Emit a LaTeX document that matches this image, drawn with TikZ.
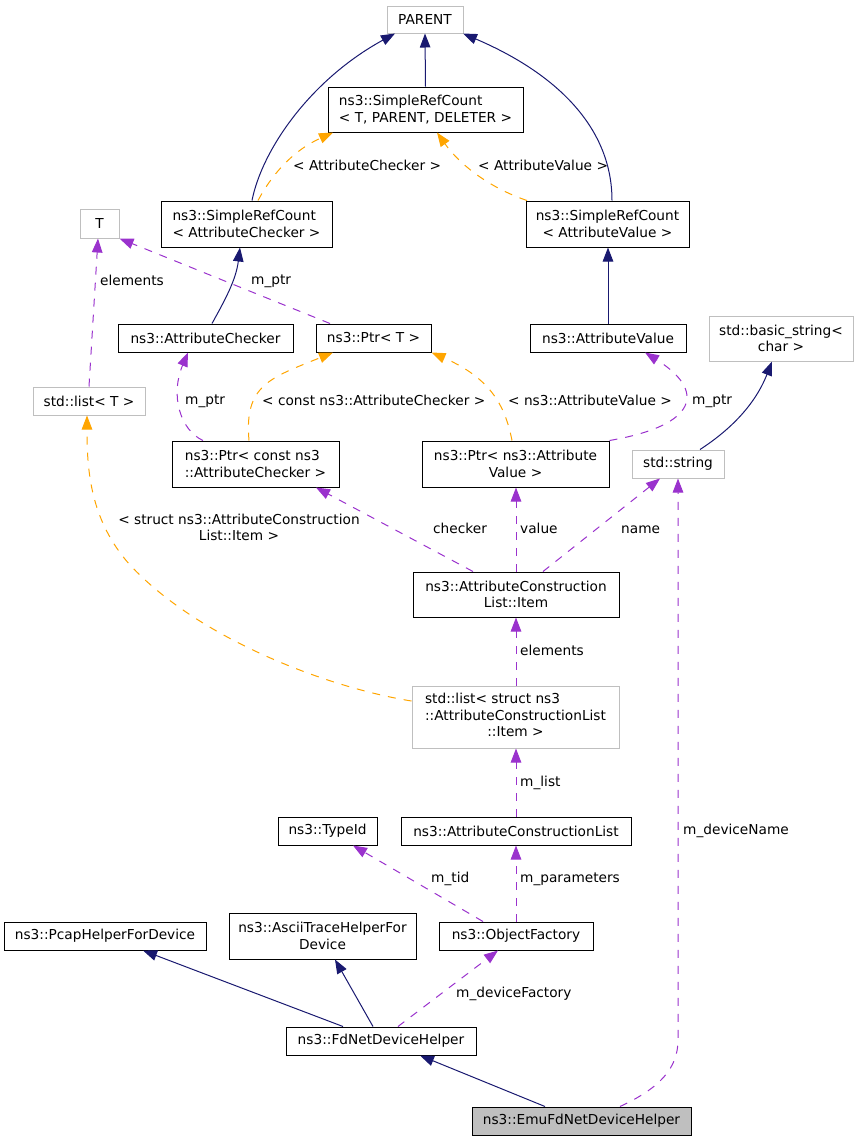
\documentclass[tikz,border=0pt]{standalone}
\usepackage{fontspec}
\setmainfont{DejaVu Sans}
\usetikzlibrary{arrows.meta}
\definecolor{navyc}{HTML}{191970}
\definecolor{orchc}{HTML}{9A32CD}
\definecolor{orngc}{HTML}{FFA500}
\definecolor{gbord}{HTML}{BFBFBF}
\definecolor{gfill}{HTML}{BFBFBF}
\begin{document}
\begin{tikzpicture}[x=1pt,y=-1pt,font=\fontsize{13.7}{16.5}\selectfont,
  cbox/.style={draw=black, line width=1pt, fill=white, inner sep=0pt, align=center},
  gbox/.style={cbox, draw=gbord},
  tip/.style={-{Triangle[length=14pt,width=10.5pt]}},
  inhedge/.style={draw=navyc, line width=1pt, tip, navyc},
  useedge/.style={draw=orchc, line width=1pt, dash pattern=on 8pt off 8pt, tip, orchc},
  tmpledge/.style={draw=orngc, line width=1pt, dash pattern=on 8pt off 8pt, tip, orngc},
  lbl/.style={inner sep=0pt, anchor=base west}]
\useasboundingbox (0,0) rectangle (859,1141);

% nodes
\node[gbox, minimum width=76, minimum height=27] (parent) at (425,19.5) {PARENT};
\node[cbox, align=left, minimum width=195, minimum height=45] (srct) at (425.5,109.5) {ns3::SimpleRefCount\\< T, PARENT, DELETER >};
\node[cbox, align=left, minimum width=171, minimum height=46] (srcac) at (246.5,224) {ns3::SimpleRefCount\\< AttributeChecker >};
\node[cbox, minimum width=163, minimum height=46] (srcav) at (607.5,224) {ns3::SimpleRefCount\\< AttributeValue >};
\node[gbox, minimum width=39, minimum height=29] (tt) at (99.5,223.5) {T};
\node[cbox, minimum width=175, minimum height=28] (ac) at (205.5,338) {ns3::AttributeChecker};
\node[cbox, minimum width=115, minimum height=28] (ptrt) at (373.5,338) {ns3::Ptr< T >};
\node[cbox, minimum width=156, minimum height=28] (av) at (608,338) {ns3::AttributeValue};
\node[gbox, minimum width=144, minimum height=45] (bstr) at (781,338.5) {std::basic\_string<\\char >};
\node[gbox, minimum width=112, minimum height=28] (listt) at (89,401) {std::list< T >};
\node[cbox, align=left, minimum width=167, minimum height=46] (ptrcac) at (255.5,464) {ns3::Ptr< const ns3\\::AttributeChecker >};
\node[cbox, minimum width=187, minimum height=46] (ptrav) at (515.5,464) {ns3::Ptr< ns3::Attribute\\Value >};
\node[gbox, minimum width=92, minimum height=28] (str) at (678,464) {std::string};
\node[cbox, minimum width=206, minimum height=45] (item) at (516,594.5) {ns3::AttributeConstruction\\List::Item};
\node[draw=gbord, line width=1pt, fill=white, inner sep=0pt, minimum width=207, minimum height=62] (lists) at (515.5,717)
  {\begin{tabular}{@{}c@{}}\begin{tabular}{@{}l@{}}std::list< struct ns3\\::AttributeConstructionList\end{tabular}\\::Item >\end{tabular}};
\node[cbox, minimum width=99, minimum height=28] (typeid) at (327.5,831) {ns3::TypeId};
\node[cbox, minimum width=230, minimum height=28] (acl) at (516,831) {ns3::AttributeConstructionList};
\node[cbox, minimum width=202, minimum height=28] (pcap) at (105,936) {ns3::PcapHelperForDevice};
\node[cbox, minimum width=187, minimum height=46] (ascii) at (322.5,936) {ns3::AsciiTraceHelperFor\\Device};
\node[cbox, minimum width=154, minimum height=28] (of) at (516,936) {ns3::ObjectFactory};
\node[cbox, minimum width=190, minimum height=28] (fd) at (381,1041) {ns3::FdNetDeviceHelper};
\node[cbox, fill=gfill, minimum width=219, minimum height=28] (emu) at (581.5,1121) {ns3::EmuFdNetDeviceHelper};

% inheritance edges
\draw[inhedge] ([xshift=5.5pt]srcac.north) .. controls (262,150) and (310,80) .. ([xshift=-30pt]parent.south);
\draw[inhedge] (srct.north) -- (parent.south);
\draw[inhedge] ([xshift=4.5pt]srcav.north) .. controls (612,130) and (560,75) .. ([xshift=38pt]parent.south);
\draw[inhedge] ([xshift=6.5pt]ac.north) .. controls (225,300) and (236,280) .. ([xshift=-6.5pt]srcac.south);
\draw[inhedge] (av.north) -- (av.north |- srcav.south);
\draw[inhedge] ([xshift=22pt]str.north) .. controls (730,430) and (755,405) .. ([xshift=-9pt]bstr.south);
\draw[inhedge] ([xshift=-38pt]fd.north) -- ([xshift=38pt]pcap.south);
\draw[inhedge] ([xshift=-8pt]fd.north) -- ([xshift=12.5pt]ascii.south);
\draw[inhedge] ([xshift=-36.5pt]emu.north) -- ([xshift=39pt]fd.south);

% template edges
\draw[tmpledge] ([xshift=11.5pt]srcac.north) .. controls (270,178) and (290,152) .. ([xshift=-92.5pt]srct.south);
\draw[tmpledge] ([xshift=-80.5pt]srcav.north) .. controls (490,188) and (460,165) .. ([xshift=11.5pt]srct.south);
\draw[tmpledge] ([xshift=-6.5pt]ptrcac.north) .. controls (244,385) and (270,378) .. ([xshift=-40.5pt]ptrt.south);
\draw[tmpledge] ([xshift=-3.5pt]ptrav.north) .. controls (505,405) and (490,378) .. (ptrt.south east);
\draw[tmpledge] ([yshift=16pt]lists.west) .. controls (330,688) and (200,640) .. (130,565) .. controls (90,520) and (87,470) .. ([xshift=-2pt]listt.south);

% usage edges
\draw[useedge] ([xshift=-43.5pt]ptrt.north) -- (tt.south east);
\draw[useedge] (listt.north) -- ([xshift=-1.5pt]tt.south);
\draw[useedge] ([xshift=-52.5pt]ptrcac.north) .. controls (180,430) and (170,395) .. ([xshift=-17.5pt]ac.south);
\draw[useedge] (ptrav.north east) .. controls (700,425) and (705,390) .. ([xshift=37pt]av.south);
\draw[useedge] ([xshift=-43pt]item.north) -- ([xshift=60.5pt]ptrcac.south);
\draw[useedge] (item.north) -- (item.north |- ptrav.south);
\draw[useedge] ([xshift=27pt]item.north) -- ([xshift=-18pt]str.south);
\draw[useedge] (item.south |- lists.north) -- (item.south);
\draw[useedge] (acl.north) -- (acl.north |- lists.south);
\draw[useedge] (of.north) -- (acl.south);
\draw[useedge] ([xshift=-33pt]of.north) -- ([xshift=25.5pt]typeid.south);
\draw[useedge] ([xshift=17pt]fd.north) -- ([xshift=-18pt]of.south);
\coordinate (bend) at (678,1040);
\draw[useedge] ([xshift=38.5pt]emu.north) .. controls (660,1088) and (678,1068) .. (bend) -- (str.south);

% labels
\node[lbl] (l1) at (100,285) {elements};
\node[lbl] (l2) at (251,284) {m\_ptr};
\node[lbl] (l3) at (293,170) {< AttributeChecker >};
\node[lbl] (l4) at (478,170) {< AttributeValue >};
\node[lbl] (l5) at (185,404) {m\_ptr};
\node[lbl] (l6) at (262,405) {< const ns3::AttributeChecker >};
\node[lbl] (l7) at (508,405) {< ns3::AttributeValue >};
\node[lbl] (l8) at (692,404) {m\_ptr};
\node[inner sep=0pt, align=center] (l9) at (239,527.5) {< struct ns3::AttributeConstruction\\List::Item >};
\node[lbl] (l10) at (433,533) {checker};
\node[lbl] (l11) at (520,533) {value};
\node[lbl] (l12) at (621,533) {name};
\node[lbl] (l13) at (520,655) {elements};
\node[lbl] (l14) at (520,786) {m\_list};
\node[lbl] (l15) at (683,834) {m\_deviceName};
\node[lbl] (l16) at (431,882) {m\_tid};
\node[lbl] (l17) at (520,882) {m\_parameters};
\node[lbl] (l18) at (456,997) {m\_deviceFactory};
\end{tikzpicture}
\end{document}
